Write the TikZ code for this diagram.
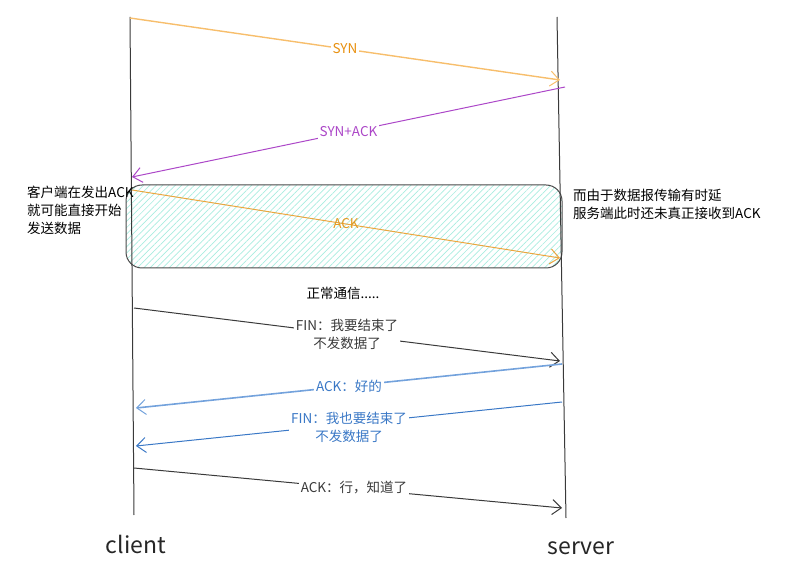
\documentclass[tikz,border=0pt]{standalone}
\usepackage{fontspec}
\setmainfont{Noto Sans CJK SC}
\usetikzlibrary{arrows.meta,patterns.meta}
\definecolor{lifegray}{HTML}{3A3A3A}
\definecolor{synline}{HTML}{F7BE6C}
\definecolor{syntext}{HTML}{E8900F}
\definecolor{sackline}{HTML}{AC47C8}
\definecolor{ackline}{HTML}{EAA63F}
\definecolor{acktext}{HTML}{E39A22}
\definecolor{lightblue}{HTML}{73A2DC}
\definecolor{darkblue}{HTML}{3A78C6}
\definecolor{hatchteal}{HTML}{A8ECDF}
\definecolor{boxgray}{HTML}{4A4A4A}
\tikzset{
  lifeline/.style={draw=lifegray,line width=1pt},
  msg/.style={line width=1pt,-{Straight Barb[length=9pt,width=15pt,line width=1pt]}},
  msglabel/.style={fill=white,inner sep=2pt,align=center,
    font=\fontsize{13.5}{18}\selectfont},
  note/.style={anchor=north west,align=left,inner sep=0pt,
    font=\fontsize{13.5}{18}\selectfont},
  endname/.style={font=\fontsize{23}{26}\selectfont,text=black!85},
}
\begin{document}
\begin{tikzpicture}[x=1pt,y=-1pt]
  \useasboundingbox (0,0) rectangle (793,577);
  % lifelines
  \coordinate (ctop) at (130,17);
  \coordinate (cbot) at (134,515);
  \coordinate (stop) at (557,17);
  \coordinate (sbot) at (566,518);
  % the window where data flows before the ACK arrives
  \draw[boxgray,line width=1pt,rounded corners=16pt,
        pattern={Lines[angle=45,distance=4.5pt,line width=0.7pt]},
        pattern color=hatchteal]
    (126,185) rectangle (562,268);
  \draw[lifeline] (ctop) -- (cbot);
  \draw[lifeline] (stop) -- (sbot);
  % message end points
  \coordinate (c1) at (130,18);   \coordinate (s1) at (560,80);
  \coordinate (s2) at (565,87);   \coordinate (c2) at (132,177);
  \coordinate (c3) at (132,190);  \coordinate (s3) at (560,258);
  \coordinate (c4) at (134,308);  \coordinate (s4) at (560,361);
  \coordinate (s5) at (562,364);  \coordinate (c5) at (136,408);
  \coordinate (s6) at (562,402);  \coordinate (c6) at (136,446);
  \coordinate (c7) at (134,468);  \coordinate (s7) at (562,508);
  % handshake
  \draw[msg,synline,line width=1.4pt] (c1) -- (s1)
    node[msglabel,midway,text=syntext] (synlabel) {SYN};
  \draw[msg,sackline] (s2) -- (c2)
    node[msglabel,midway,text=sackline] (sacklabel) {SYN+ACK};
  \draw[msg,ackline] (c3) -- (s3)
    node[midway,inner sep=2pt,text=acktext,font=\fontsize{13.5}{18}\selectfont] (acklabel) {ACK};
  % notes
  \node[note] (clientnote) at (27,186) {客户端在发出ACK\\就可能直接开始\\发送数据};
  \node[note] (servernote) at (573,189) {而由于数据报传输有时延\\服务端此时还未真正接收到ACK};
  \node[msglabel] (normal) at (343,293) {正常通信.....};
  % teardown
  \draw[msg,lifegray] (c4) -- (s4)
    node[msglabel,midway] (fin1) {FIN：我要结束了\\不发数据了};
  \draw[msg,lightblue,line width=1.6pt] (s5) -- (c5)
    node[msglabel,midway,text=darkblue] (ack2) {ACK：好的};
  \draw[msg,darkblue] (s6) -- (c6)
    node[msglabel,midway,yshift=-3pt,text=darkblue] (fin2) {FIN：我也要结束了\\不发数据了};
  \draw[msg,lifegray] (c7) -- (s7)
    node[msglabel,midway,xshift=6pt] (ack3) {ACK：行，知道了};
  % ends
  \node[endname] (client) at (136,544) {client};
  \node[endname] (server) at (581,548) {server};
\end{tikzpicture}
\end{document}
